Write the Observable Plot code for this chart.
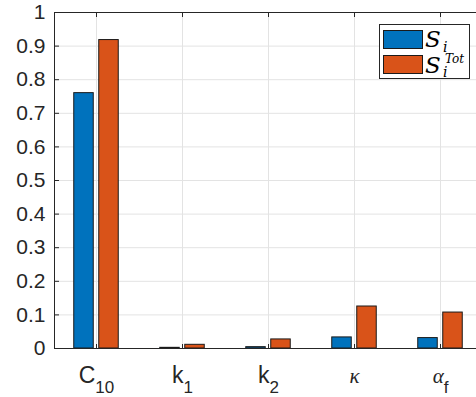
<!DOCTYPE html>
<html><head><meta charset="utf-8">
<script src="https://cdn.jsdelivr.net/npm/d3@7"></script>
<script src="https://cdn.jsdelivr.net/npm/@observablehq/plot@0.6"></script>
<style>
html,body{margin:0;padding:0;background:#fff;overflow:hidden;width:476px;height:397px}
#wrap{position:relative;width:486px;height:397px}
#wrap svg.overlay{position:absolute;left:0;top:0;pointer-events:none}
</style></head><body><div id="wrap"></div>
<script>
const categories = ["C10", "k1", "k2", "kappa", "alpha_f"];
const labelBase = ["C", "k", "k", "κ", "α"];
const labelSub = ["10", "1", "2", "", "f"];
const labelMath = [false, false, false, true, true];
const Si = [0.760, 0.002, 0.004, 0.033, 0.031];
const STot = [0.918, 0.011, 0.027, 0.125, 0.107];
const yTicks = [0, 0.1, 0.2, 0.3, 0.4, 0.5, 0.6, 0.7, 0.8, 0.9, 1];
const yTickLabels = ["0", "0.1", "0.2", "0.3", "0.4", "0.5", "0.6", "0.7", "0.8", "0.9", "1"];
const seriesColors = ["#0072BD", "#D95319"];

const data = categories.map((c, i) => ({cat: c, si: Si[i], st: STot[i]}));
const ink = "#262626";

const chart = Plot.plot({
  width: 486, height: 397,
  marginLeft: 54, marginRight: 0, marginTop: 12, marginBottom: 49,
  x: {domain: categories, range: [52, 484.5], padding: 0, axis: null, label: null},
  y: {domain: [0, 1], axis: null, label: null},
  style: {fontFamily: "'Liberation Sans', Helvetica, Arial, sans-serif", color: ink, background: "#fff"},
  marks: [
    Plot.gridY(yTicks, {stroke: "#e3e3e3", strokeOpacity: 1}),
    Plot.gridX(categories, {stroke: "#e3e3e3", strokeOpacity: 1}),
    Plot.barY(data, {x: "cat", y: "si", fill: seriesColors[0], stroke: "#1a1a1a", strokeWidth: 1, insetLeft: 20.75, insetRight: 45.75}),
    Plot.barY(data, {x: "cat", y: "st", fill: seriesColors[1], stroke: "#1a1a1a", strokeWidth: 1, insetLeft: 45.75, insetRight: 20.75}),
    Plot.axisY(yTicks, {tickSize: 0, tickPadding: 9, fontSize: 21, fill: ink, label: null, tickFormat: (d, i) => yTickLabels[i]}),
    Plot.axisY(yTicks, {tickSize: -5, stroke: ink, label: null, tickFormat: () => ""}),
    Plot.axisX(categories, {anchor: "top", tickSize: -4, stroke: ink, label: null, tickFormat: () => ""}),
    Plot.axisX(categories, {anchor: "bottom", tickSize: 0, tickPadding: 18, fontSize: 23, fill: ink, label: null, tickFormat: d => d}),
    Plot.axisX(categories, {anchor: "bottom", tickSize: -4, stroke: ink, label: null, tickFormat: () => ""}),
    Plot.frame({stroke: ink})
  ]
});

// rich x tick labels (subscripts, math symbols)
const xl = d3.select(chart).selectAll('g[aria-label="x-axis tick label"] text').filter(function() { return this.textContent !== ""; });
xl.each(function() {
  const i = categories.indexOf(this.textContent);
  if (i < 0) return;
  const t = d3.select(this);
  t.text("");
  const b = t.append("tspan").text(labelBase[i]);
  if (labelMath[i]) b.attr("font-family", "'Liberation Serif', 'Times New Roman', serif").attr("font-style", "italic").attr("font-size", 21);
  if (labelSub[i]) t.append("tspan").text(labelSub[i]).attr("font-size", 17).attr("dy", 10);
});

document.getElementById("wrap").appendChild(chart);

// legend overlay
const svg = d3.select("#wrap").append("svg").attr("class", "overlay").attr("width", 476).attr("height", 397);
const lg = svg.append("g");
lg.append("rect").attr("x", 379.5).attr("y", 24.5).attr("width", 90).attr("height", 54).attr("fill", "#fff").attr("stroke", ink);
const rowsY = [30.5, 55.5];
rowsY.forEach((y, k) => {
  lg.append("rect").attr("x", 383.5).attr("y", y).attr("width", 39).attr("height", 18).attr("fill", seriesColors[k]).attr("stroke", "#1a1a1a");
});
const serif = "'DejaVu Serif', 'Liberation Serif', serif";
const t1 = lg.append("text").attr("x", 425).attr("y", 47).attr("font-family", serif).attr("font-style", "italic").attr("fill", "#000");
t1.append("tspan").text("S").attr("font-size", 23);
t1.append("tspan").text("i").attr("font-size", 14).attr("x", 443).attr("y", 52);
const t2 = lg.append("text").attr("x", 425).attr("y", 73).attr("font-family", serif).attr("font-style", "italic").attr("fill", "#000");
t2.append("tspan").text("S").attr("font-size", 23);
t2.append("tspan").text("Tot").attr("font-size", 12).attr("x", 445).attr("y", 63);
t2.append("tspan").text("i").attr("font-size", 14).attr("x", 443).attr("y", 77);
</script>
</body></html>
